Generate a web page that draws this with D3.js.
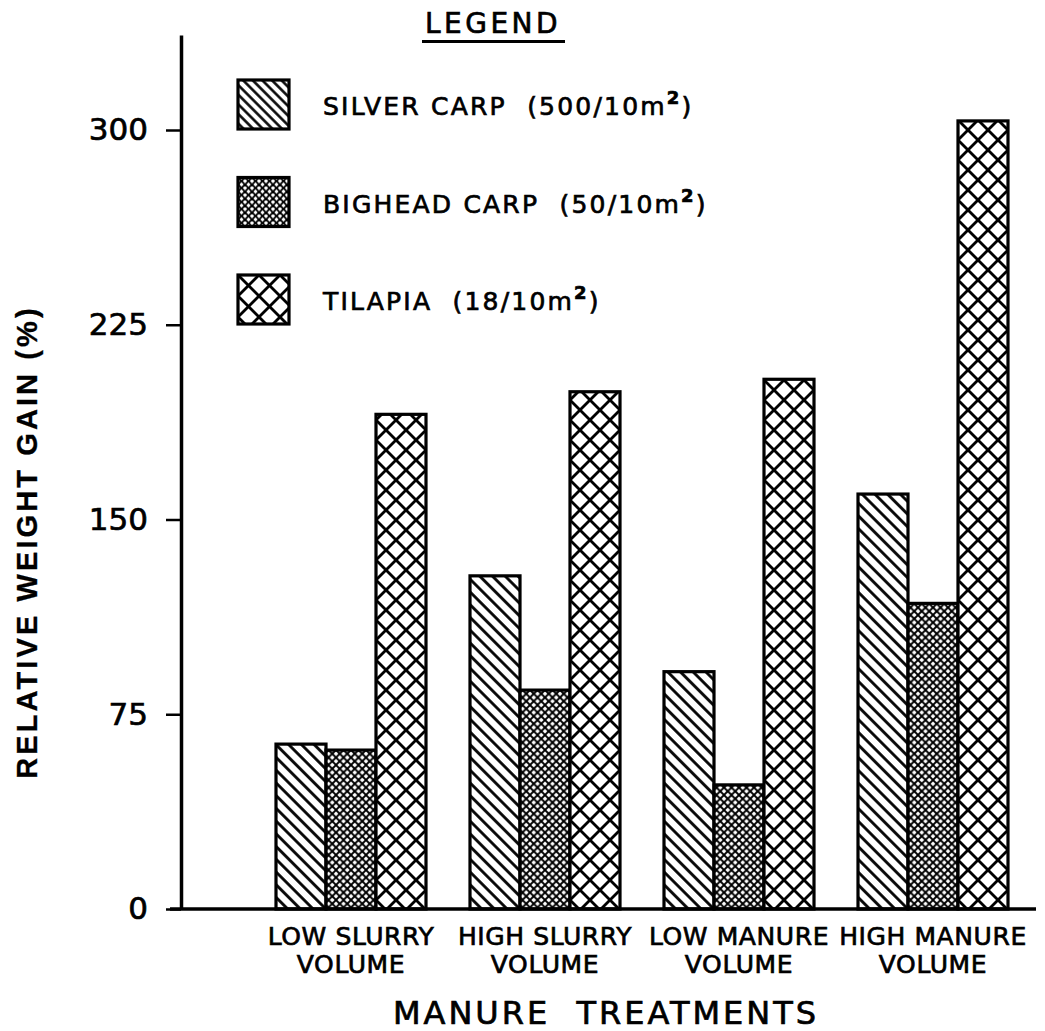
<!DOCTYPE html>
<html>
<head>
<meta charset="utf-8">
<script src="https://cdn.jsdelivr.net/npm/d3@7/dist/d3.min.js"></script>
<style>
  html, body { margin: 0; padding: 0; background: #fff; }
  svg { display: block; }
  text { font-family: "DejaVu Sans", sans-serif; fill: #000; stroke: #000; stroke-width: 0.7px; }
</style>
</head>
<body>
<svg id="chart" width="1045" height="1031"></svg>
<script>
// ---- data ----
const categories = ["LOW SLURRY VOLUME", "HIGH SLURRY VOLUME", "LOW MANURE VOLUME", "HIGH MANURE VOLUME"];
const categoryLine1 = ["LOW SLURRY", "HIGH SLURRY", "LOW MANURE", "HIGH MANURE"];
const categoryLine2 = ["VOLUME", "VOLUME", "VOLUME", "VOLUME"];
const seriesKeys = ["silver", "bighead", "tilapia"];
const seriesNames = ["SILVER CARP  (500/10m", "BIGHEAD CARP  (50/10m", "TILAPIA  (18/10m"];
const silverCarp = [63.5, 128.3, 91.4, 159.8];
const bigheadCarp = [61.2, 84.3, 47.8, 117.7];
const tilapia = [190.5, 199.2, 204.0, 303.5];
const yTicks = [0, 75, 150, 225, 300];
const yAxisTitle = "RELATIVE WEIGHT GAIN (%)";
const xAxisTitle = "MANURE TREATMENTS";
const legendTitle = "LEGEND";

const seriesValues = { silver: silverCarp, bighead: bigheadCarp, tilapia: tilapia };

// ---- layout ----
const svg = d3.select("#chart");
const x0 = 181, yBase = 909, yTop = 35;
const y = d3.scaleLinear()
  .domain([0, 300 * (yBase - yTop) / (yBase - 130)])
  .range([yBase, yTop]);

const pi = 44 / 194;
const x = d3.scaleBand().domain(categories).range([254, 1030])
  .paddingInner(pi).paddingOuter(pi / 2);
const xs = d3.scaleBand().domain(seriesKeys).range([0, x.bandwidth()]).padding(0);

// ---- patterns ----
const defs = svg.append("defs");
function stripes(id, s, sw) {
  const p = defs.append("pattern").attr("id", id).attr("patternUnits", "userSpaceOnUse")
    .attr("width", s).attr("height", s).attr("patternTransform", "rotate(-45)");
  p.append("rect").attr("width", s).attr("height", s).attr("fill", "#fff");
  p.append("line").attr("x1", s / 2).attr("y1", -1).attr("x2", s / 2).attr("y2", s + 1)
    .attr("stroke", "#000").attr("stroke-width", sw);
}
function cross(id, w, sw) {
  const p = defs.append("pattern").attr("id", id).attr("patternUnits", "userSpaceOnUse")
    .attr("width", w).attr("height", w);
  p.append("rect").attr("width", w).attr("height", w).attr("fill", "#fff");
  for (const k of [-1, 0, 1]) {
    p.append("line").attr("x1", -1 + k * w).attr("y1", -1).attr("x2", w + 1 + k * w).attr("y2", w + 1)
      .attr("stroke", "#000").attr("stroke-width", sw);
    p.append("line").attr("x1", w + 1 + k * w).attr("y1", -1).attr("x2", -1 + k * w).attr("y2", w + 1)
      .attr("stroke", "#000").attr("stroke-width", sw);
  }
}
stripes("pat-silver", 9, 2.8);
cross("pat-bighead", 7.5, 1.9);
cross("pat-tilapia", 20, 2.8);
stripes("pat-silver-leg", 6.8, 2.5);
cross("pat-bighead-leg", 7, 1.9);
cross("pat-tilapia-leg", 21, 2.8);

// ---- bars ----
const groups = svg.append("g").selectAll("g").data(categories).join("g")
  .attr("transform", d => `translate(${x(d)},0)`);
groups.selectAll("rect")
  .data((d, i) => seriesKeys.map(k => ({ key: k, value: seriesValues[k][i] })))
  .join("rect")
  .attr("x", d => xs(d.key))
  .attr("y", d => y(d.value))
  .attr("width", xs.bandwidth())
  .attr("height", d => y(0) - y(d.value))
  .attr("fill", d => `url(#pat-${d.key})`)
  .attr("stroke", "#000")
  .attr("stroke-width", 3.2);

// ---- y axis ----
const yAxis = svg.append("g").attr("transform", `translate(${x0},0)`)
  .call(d3.axisLeft(y).tickValues(yTicks).tickSize(15).tickSizeOuter(0).tickPadding(18));
yAxis.select(".domain").attr("stroke", "#000").attr("stroke-width", 3.5);
yAxis.selectAll(".tick line").attr("stroke", "#000").attr("stroke-width", 2.5);
yAxis.selectAll(".tick text").style("font-family", "DejaVu Sans").style("font-size", "31px")
  .attr("fill", "#000").attr("stroke", "#000").attr("stroke-width", 0.6);

// ---- x axis ----
svg.append("line").attr("x1", 170).attr("x2", 1036).attr("y1", y(0)).attr("y2", y(0))
  .attr("stroke", "#000").attr("stroke-width", 3.5);

const xl = svg.append("g").selectAll("text").data(categories).join("text")
  .attr("text-anchor", "middle")
  .style("font-size", "25px").style("letter-spacing", "0.6px");
xl.append("tspan").attr("x", d => x(d) + x.bandwidth() / 2).attr("y", 945)
  .text((d, i) => categoryLine1[i]);
xl.append("tspan").attr("x", d => x(d) + x.bandwidth() / 2).attr("y", 973)
  .text((d, i) => categoryLine2[i]);

svg.append("text").attr("x", 606).attr("y", 1024).attr("text-anchor", "middle")
  .style("font-size", "32px").style("letter-spacing", "3px").style("white-space", "pre")
  .text(xAxisTitle.replace(" ", "  "));

svg.append("text")
  .attr("transform", `translate(37,542) rotate(-90)`)
  .attr("text-anchor", "middle")
  .style("font-family", "'Liberation Sans', Arial, sans-serif")
  .style("font-weight", "bold").style("font-size", "29px").style("letter-spacing", "3.1px")
  .style("stroke-width", "0.3px")
  .text(yAxisTitle);

// ---- legend ----
svg.append("text").attr("x", 493).attr("y", 33).attr("text-anchor", "middle")
  .style("font-size", "28px").style("letter-spacing", "3.5px").text(legendTitle);
svg.append("line").attr("x1", 422).attr("x2", 565).attr("y1", 41.5).attr("y2", 41.5)
  .attr("stroke", "#000").attr("stroke-width", 3);

const leg = svg.append("g").selectAll("g").data(seriesKeys).join("g")
  .attr("transform", (d, i) => `translate(238,${80 + i * 97.5})`);
leg.append("rect").attr("width", 51).attr("height", 49)
  .attr("fill", d => `url(#pat-${d}-leg)`).attr("stroke", "#000").attr("stroke-width", 3.2);
const lt = leg.append("text").attr("x", 85).attr("y", 35)
  .style("font-size", "25px").style("letter-spacing", "2.2px").style("white-space", "pre");
lt.append("tspan").text((d, i) => seriesNames[i]);
lt.append("tspan").attr("dy", -11).style("font-size", "18px").style("font-weight", "bold").text("2");
lt.append("tspan").attr("dy", 11).text(")");
</script>
</body>
</html>
